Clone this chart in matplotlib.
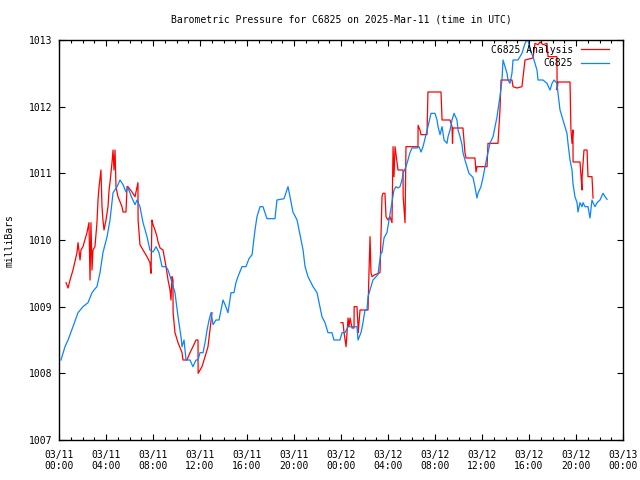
import numpy as np
import matplotlib
matplotlib.use('Agg')
from matplotlib import pyplot as plt
from matplotlib.ticker import MultipleLocator

plt.rcParams['font.family'] = ['DejaVu Sans Mono']

# hours since 2025-03-11 00:00 UTC
blue_hours = [0.17, 0.51, 0.77, 1.19, 1.62, 2.04, 2.47, 2.81, 2.98, 3.23, 3.49, 3.74, 4.09, 4.34, 4.60,
              4.94, 5.19, 5.45, 5.70, 5.87, 6.21, 6.47, 6.64, 6.89, 7.15, 7.49, 7.74, 8.00, 8.26, 8.51,
              8.77, 9.11, 9.28, 9.62, 9.87, 10.13, 10.38, 10.47, 10.64, 10.81, 11.15, 11.40, 11.66, 11.83, 12.00,
              12.26, 12.43, 12.60, 12.77, 12.94, 13.11, 13.36, 13.62, 13.79, 13.96, 14.13, 14.38, 14.64, 14.89, 15.06,
              15.23, 15.57, 15.91, 16.17, 16.43, 16.51, 16.68, 16.85, 17.11, 17.36, 17.70, 18.38, 18.55, 19.15, 19.49,
              19.66, 19.91, 20.26, 20.51, 20.77, 20.94, 21.19, 21.62, 21.96, 22.21, 22.38, 22.64, 22.89, 23.23, 23.40,
              23.91, 24.09, 24.34, 24.60, 25.36, 25.45, 25.70, 25.87, 26.04, 26.21, 26.30, 26.55, 26.72, 27.15, 27.23,
              27.40, 27.49, 27.66, 27.91, 28.09, 28.34, 28.51, 28.68, 28.85, 29.02, 29.19, 29.28, 29.53, 29.70, 29.87,
              30.04, 30.47, 30.64, 30.81, 30.98, 31.23, 31.40, 31.66, 32.00, 32.17, 32.26, 32.43, 32.60, 32.77, 33.02,
              33.11, 33.28, 33.45, 33.62, 33.87, 33.96, 34.13, 34.30, 34.38, 34.55, 34.72, 34.89, 35.23, 35.40, 35.57,
              35.66, 35.91, 36.09, 36.26, 36.43, 36.68, 36.94, 37.11, 37.28, 37.36, 37.53, 37.70, 37.79, 37.96, 38.13,
              38.21, 38.38, 38.55, 38.64, 39.06, 39.40, 39.66, 39.83, 39.91, 40.09, 40.34, 40.51, 40.68, 40.77, 41.19,
              41.53, 41.79, 41.96, 42.13, 42.38, 42.47, 42.64, 42.81, 42.98, 43.23, 43.32, 43.49, 43.66, 43.74, 43.91,
              44.09, 44.17, 44.34, 44.51, 44.60, 44.77, 45.02, 45.19, 45.36, 45.45, 45.62, 45.79, 46.04, 46.30, 46.47,
              46.64]
blue_mb = [1008.20, 1008.40, 1008.50, 1008.70, 1008.91, 1009.00, 1009.06, 1009.21, 1009.25, 1009.30, 1009.51, 1009.81, 1010.05, 1010.30, 1010.71,
           1010.80, 1010.90, 1010.83, 1010.72, 1010.78, 1010.63, 1010.53, 1010.60, 1010.50, 1010.26, 1010.05, 1009.85, 1009.82, 1009.90, 1009.81,
           1009.60, 1009.60, 1009.55, 1009.36, 1009.21, 1008.85, 1008.55, 1008.40, 1008.50, 1008.20, 1008.20, 1008.10, 1008.20, 1008.20, 1008.31,
           1008.31, 1008.46, 1008.65, 1008.80, 1008.91, 1008.73, 1008.80, 1008.80, 1008.95, 1009.10, 1009.03, 1008.91, 1009.21, 1009.21, 1009.36,
           1009.45, 1009.60, 1009.60, 1009.72, 1009.78, 1009.90, 1010.15, 1010.35, 1010.50, 1010.50, 1010.32, 1010.32, 1010.60, 1010.62, 1010.80,
           1010.65, 1010.42, 1010.30, 1010.08, 1009.85, 1009.60, 1009.45, 1009.30, 1009.21, 1009.00, 1008.85, 1008.76, 1008.61, 1008.61, 1008.50,
           1008.50, 1008.61, 1008.61, 1008.70, 1008.70, 1008.50, 1008.61, 1008.76, 1008.95, 1008.95, 1009.15, 1009.30, 1009.40, 1009.48, 1009.60,
           1009.81, 1009.81, 1010.03, 1010.11, 1010.30, 1010.56, 1010.75, 1010.80, 1010.78, 1010.80, 1010.90, 1011.00, 1011.10, 1011.20, 1011.31,
           1011.38, 1011.38, 1011.40, 1011.32, 1011.40, 1011.58, 1011.70, 1011.90, 1011.90, 1011.80, 1011.70, 1011.58, 1011.70, 1011.50, 1011.45,
           1011.55, 1011.65, 1011.80, 1011.90, 1011.80, 1011.65, 1011.55, 1011.43, 1011.31, 1011.20, 1011.10, 1011.00, 1010.94, 1010.80, 1010.63,
           1010.70, 1010.80, 1010.94, 1011.10, 1011.25, 1011.45, 1011.55, 1011.70, 1011.85, 1011.95, 1012.15, 1012.40, 1012.70, 1012.60, 1012.50,
           1012.40, 1012.35, 1012.50, 1012.70, 1012.70, 1012.80, 1012.95, 1013.00, 1013.00, 1012.85, 1012.75, 1012.65, 1012.55, 1012.40, 1012.40,
           1012.35, 1012.25, 1012.35, 1012.40, 1012.35, 1012.20, 1011.95, 1011.85, 1011.75, 1011.60, 1011.45, 1011.20, 1011.05, 1010.85, 1010.65,
           1010.56, 1010.42, 1010.56, 1010.50, 1010.56, 1010.50, 1010.50, 1010.33, 1010.60, 1010.56, 1010.50, 1010.56, 1010.60, 1010.70, 1010.65,
           1010.61]

# analysis series, no data between ~13h and 24h
red_hours = [0.60, 0.77, 0.94, 1.19, 1.53, 1.62, 1.79, 1.87, 2.04, 2.38, 2.55, 2.64, 2.72, 2.81, 2.89,
             3.06, 3.23, 3.32, 3.40, 3.57, 3.66, 3.74, 3.83, 4.00, 4.17, 4.26, 4.34, 4.51, 4.60, 4.68,
             4.77, 4.85, 5.02, 5.36, 5.45, 5.70, 5.79, 5.87, 6.21, 6.47, 6.72, 6.73, 6.89, 7.15, 7.49,
             7.74, 7.83, 7.91, 8.00, 8.17, 8.34, 8.43, 8.60, 8.85, 9.11, 9.28, 9.45, 9.53, 9.62, 9.70,
             9.71, 9.87, 10.13, 10.47, 10.55, 10.89, 11.15, 11.40, 11.66, 11.83, 11.84, 12.17, 12.43, 12.68, 12.94,
             13.02, 18.0,
             24.00, 24.17, 24.26, 24.43, 24.51, 24.60, 24.68, 24.77, 24.94, 25.11, 25.12, 25.36, 25.45, 25.46, 25.62,
             26.30, 26.38, 26.47, 26.55, 26.64, 26.89, 27.32, 27.40, 27.49, 27.57, 27.74, 27.83, 28.00, 28.17, 28.34,
             28.43, 28.51, 28.60, 28.77, 28.85, 29.28, 29.29, 29.45, 29.53, 30.55, 30.56, 30.72, 30.81, 31.32, 31.40,
             32.51, 32.60, 33.28, 33.45, 33.49, 33.53, 34.38, 34.55, 34.64, 35.40, 35.49, 35.57, 36.43, 36.51, 37.36,
             37.53, 37.62, 38.55, 38.64, 38.98, 39.40, 39.66, 40.34, 40.51, 40.77, 40.94, 41.19, 41.53, 41.62, 42.38,
             42.39, 42.47, 43.49, 43.57, 43.66, 43.74, 43.75, 44.34, 44.43, 44.51, 44.52, 44.68, 44.94, 45.02, 45.36,
             45.45]
red_mb = [1009.36, 1009.28, 1009.40, 1009.55, 1009.81, 1009.96, 1009.70, 1009.85, 1009.90, 1010.11, 1010.26, 1009.40, 1010.26, 1009.55, 1009.85,
          1009.90, 1010.26, 1010.60, 1010.78, 1011.05, 1010.50, 1010.30, 1010.15, 1010.30, 1010.50, 1010.75, 1010.86, 1011.16, 1011.35, 1011.05,
          1011.35, 1010.80, 1010.65, 1010.50, 1010.42, 1010.42, 1010.80, 1010.80, 1010.72, 1010.65, 1010.86, 1010.30, 1009.93, 1009.85, 1009.75,
          1009.66, 1009.50, 1010.30, 1010.23, 1010.15, 1010.05, 1009.97, 1009.88, 1009.85, 1009.60, 1009.40, 1009.25, 1009.10, 1009.45, 1009.40,
          1008.91, 1008.61, 1008.46, 1008.31, 1008.20, 1008.20, 1008.31, 1008.40, 1008.50, 1008.50, 1008.00, 1008.10, 1008.25, 1008.40, 1008.80,
          1008.91, np.nan,
          1008.76, 1008.76, 1008.61, 1008.40, 1008.61, 1008.83, 1008.70, 1008.83, 1008.68, 1008.68, 1009.00, 1009.00, 1008.70, 1008.61, 1008.95,
          1008.95, 1009.51, 1010.05, 1009.51, 1009.45, 1009.48, 1009.51, 1010.05, 1010.65, 1010.70, 1010.70, 1010.35, 1010.30, 1010.35, 1010.26,
          1011.40, 1010.95, 1011.40, 1011.16, 1011.05, 1011.05, 1010.65, 1010.26, 1011.40, 1011.40, 1011.72, 1011.65, 1011.58, 1011.58, 1012.22,
          1012.22, 1011.80, 1011.80, 1011.70, 1011.45, 1011.68, 1011.68, 1011.31, 1011.23, 1011.23, 1011.02, 1011.10, 1011.10, 1011.45, 1011.45,
          1011.95, 1012.40, 1012.40, 1012.30, 1012.28, 1012.30, 1012.70, 1012.73, 1012.95, 1012.93, 1012.97, 1012.93, 1012.95, 1012.75, 1012.75,
          1012.25, 1012.37, 1012.37, 1011.65, 1011.45, 1011.65, 1011.17, 1011.17, 1010.95, 1010.75, 1010.95, 1011.35, 1011.35, 1010.95, 1010.95,
          1010.63]

tick_hours = [0, 4, 8, 12, 16, 20, 24, 28, 32, 36, 40, 44, 48]
tick_labels = ['03/11\n00:00', '03/11\n04:00', '03/11\n08:00', '03/11\n12:00', '03/11\n16:00',
               '03/11\n20:00', '03/12\n00:00', '03/12\n04:00', '03/12\n08:00', '03/12\n12:00',
               '03/12\n16:00', '03/12\n20:00', '03/13\n00:00']

fig = plt.figure(figsize=(6.4, 4.8), dpi=100)
ax = fig.add_axes([59 / 640, 40 / 480, 564 / 640, 400 / 480])

ax.plot(red_hours, red_mb, color='#ff0000', lw=0.9, label='C6825 Analysis')
ax.plot(blue_hours, blue_mb, color='#0a84ff', lw=0.9, label='C6825')

ax.set_xlim(0, 48)
ax.set_ylim(1007, 1013)
ax.set_xticks(tick_hours)
ax.set_xticklabels(tick_labels, fontsize=7)
ax.xaxis.set_minor_locator(MultipleLocator(1))
ax.yaxis.set_major_locator(MultipleLocator(1))
ax.tick_params(axis='y', labelsize=7)
ax.tick_params(which='both', direction='in', top=True, right=True, width=0.8)
ax.tick_params(which='major', length=4)
ax.tick_params(which='minor', length=2)
ax.tick_params(axis='x', pad=7)
ax.tick_params(axis='y', pad=5)
for s in ax.spines.values():
    s.set_linewidth(1.0)

fig.text(341 / 640, 1 - 20 / 480, 'Barometric Pressure for C6825 on 2025-Mar-11 (time in UTC)',
         ha='center', va='center', fontsize=7)
fig.text(10 / 640, 1 - 241 / 480, 'milliBars', rotation=90, ha='center', va='center', fontsize=7)

ax.legend(loc='upper right', bbox_to_anchor=(1 - 9 / 564, 1), frameon=False, fontsize=7,
          markerfirst=False, alignment='right', handlelength=2.9, handletextpad=0.8,
          labelspacing=0.35, borderaxespad=0.3, borderpad=0.2)

fig.savefig('out.png', dpi=100)
